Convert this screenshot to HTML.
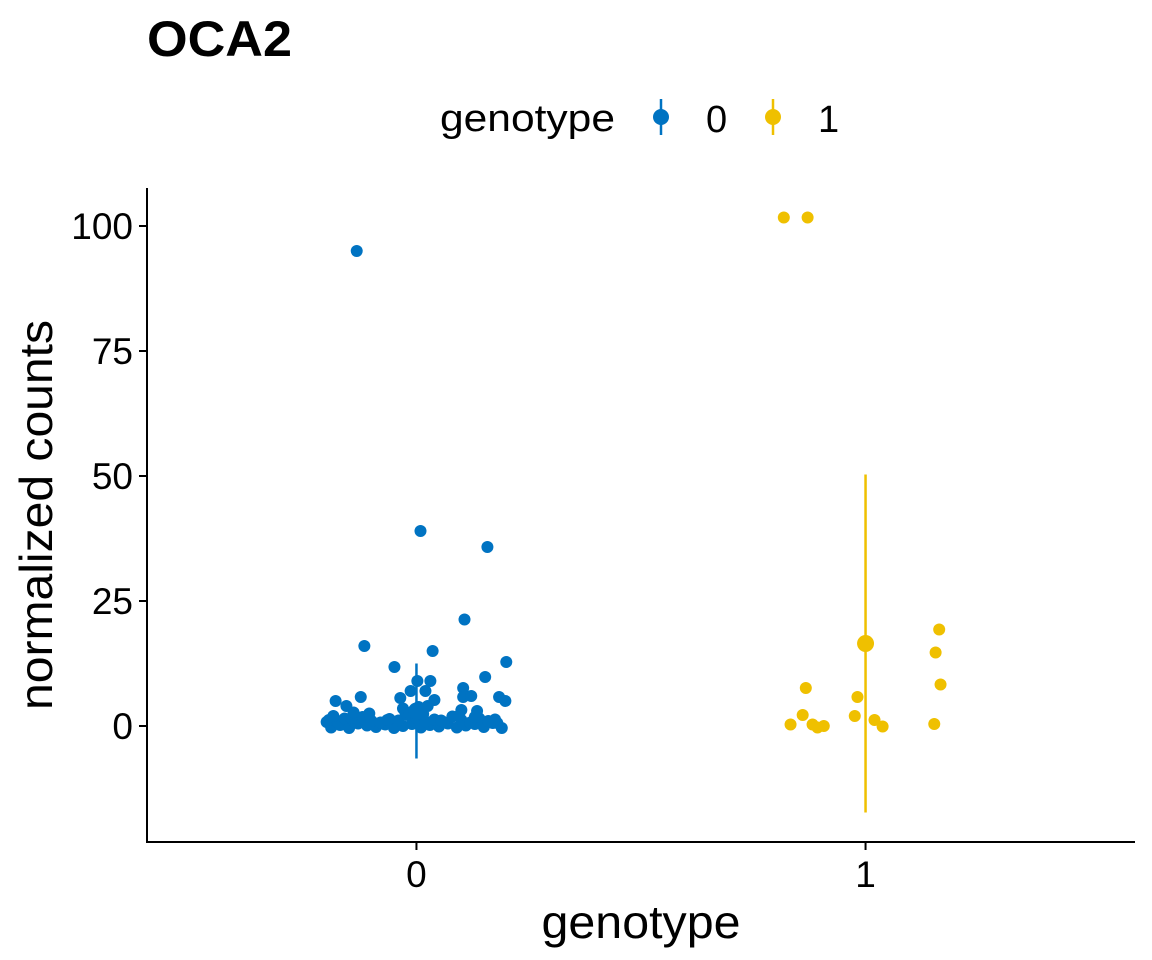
<!DOCTYPE html>
<html><head><meta charset="utf-8"><style>
body{margin:0;background:#fff;}
svg{display:block;font-family:"Liberation Sans",sans-serif;}
</style></head><body>
<svg id="chart" width="1152" height="960">
<text x="147" y="56" font-size="50" font-weight="bold" textLength="145" lengthAdjust="spacingAndGlyphs">OCA2</text>
<g>
<text x="440" y="131" font-size="38" textLength="175" lengthAdjust="spacingAndGlyphs">genotype</text>
<g><line x1="661" x2="661" y1="99" y2="135" stroke="#0073C2" stroke-width="2.5"/><circle cx="661" cy="117" r="8" fill="#0073C2"/><text x="706" y="132" font-size="38">0</text></g>
<g><line x1="773" x2="773" y1="99" y2="135" stroke="#EFC000" stroke-width="2.5"/><circle cx="773" cy="117" r="8" fill="#EFC000"/><text x="818" y="132" font-size="38">1</text></g>
</g>
<g id="axes"></g>
<g id="marks"></g>
<text x="641" y="938" font-size="46" text-anchor="middle" textLength="199" lengthAdjust="spacingAndGlyphs">genotype</text>
<text transform="translate(52,515) rotate(-90)" font-size="46" text-anchor="middle" textLength="390" lengthAdjust="spacingAndGlyphs">normalized counts</text>
</svg>
<script>
const categories=["0","1"];
const yTicks=[0,25,50,75,100];
const colors=["#0073C2","#EFC000"];
const g0x=[-0.133,0.009,0.158,0.107,-0.116,0.036,0.2,-0.049,0.153,0.002,0.031,0.104,-0.013,0.02,0.184,0.198,-0.124,-0.18,-0.036,0.04,0.104,0.122,-0.156,-0.2,
-0.19,-0.17,-0.15,-0.13,-0.11,-0.09,-0.07,-0.05,-0.03,-0.01,0.01,0.03,0.05,0.07,0.09,0.11,0.13,0.15,0.17,0.19,
-0.195,-0.175,-0.16,-0.14,-0.12,-0.1,-0.08,-0.06,-0.04,-0.02,0,0.02,0.04,0.06,0.08,0.1,0.12,0.14,0.16,0.18,
-0.185,-0.145,-0.105,-0.065,-0.025,0.015,0.055,0.095,0.135,0.175,-0.03,0.005,-0.015,0.1,0.13,0.025,-0.14];
const g0y=[95,39,35.8,21.3,16,15,12.8,11.8,9.8,9,9,7.6,7,7,5.8,5,5.8,5,5.6,5.2,5.8,6,4,0.8,
-0.3,0.2,-0.4,0.5,0.1,-0.2,0.3,-0.4,0,0.4,-0.3,0.2,-0.1,0.5,-0.3,0.1,0.4,-0.2,0.6,-0.4,
1.2,0.8,1.5,0.9,1.8,1,0.7,1.4,1.1,2.2,1.6,0.9,1.3,0.8,1.9,1.2,0.7,1.5,1,0.6,
2,1.6,2.5,1.2,2.8,2.4,1.1,2.1,3,1.3,3.5,3.8,2.6,3.2,1.8,4,2.7];
const g1x=[-0.182,-0.129,-0.133,-0.14,-0.167,-0.118,-0.107,-0.093,-0.018,-0.024,0.02,0.038,0.164,0.156,0.167,0.153];
const g1y=[101.7,101.7,7.6,2.2,0.3,0.3,-0.3,0,5.8,2,1.2,-0.1,19.3,14.7,8.3,0.4];
const means=[3,16.5];
const lows=[-6.5,-17.3];
const highs=[12.5,50.3];
const X0=147,X1=1135,Y0=842,Y1=188,XMIN=-0.6,XMAX=1.6,YMIN=-23.2,YMAX=107.6;
const sx=v=>X0+(v-XMIN)/(XMAX-XMIN)*(X1-X0);
const sy=v=>Y0-(v-YMIN)/(YMAX-YMIN)*(Y0-Y1);
const NS="http://www.w3.org/2000/svg";
function mk(tag,attrs,parent){const e=document.createElementNS(NS,tag);for(const k in attrs)e.setAttribute(k,attrs[k]);parent.appendChild(e);return e;}
const ax=document.getElementById('axes'),mg=document.getElementById('marks');
let l=mk('line',{x1:X0,x2:X0,y1:Y1,y2:Y0+1,stroke:'#000','stroke-width':2},ax);


l=mk('line',{x1:X0-1,x2:X1,y1:Y0,y2:Y0,stroke:'#000','stroke-width':2},ax);


yTicks.forEach(t=>{
 const tk=mk('line',{x1:X0-8,x2:X0,y1:sy(t),y2:sy(t),stroke:'#000','stroke-width':2},ax);
 
 
 const tx=mk('text',{x:X0-14,y:sy(t)+13,'font-size':37,'text-anchor':'end'},ax);
 tx.textContent=t;
 
 
});
categories.forEach((c,i)=>{
 const tk=mk('line',{x1:sx(i),x2:sx(i),y1:Y0,y2:Y0+8,stroke:'#000','stroke-width':2},ax);
 
 
 const tx=mk('text',{x:sx(i),y:Y0+45,'font-size':37,'text-anchor':'middle'},ax);
 tx.textContent=c;
 
 
});
function pts(xs,ys,g){xs.forEach((dx,j)=>{
 const p=mk('circle',{cx:sx(g+dx),cy:sy(ys[j]),r:6,fill:colors[g]},mg);
 
 
});}
pts(g0x,g0y,0);pts(g1x,g1y,1);
means.forEach((m,i)=>{
 const e=mk('line',{x1:sx(i),x2:sx(i),y1:sy(lows[i]),y2:sy(highs[i]),stroke:colors[i],'stroke-width':2.5},mg);
 
 
 const c=mk('circle',{cx:sx(i),cy:sy(m),r:8.5,fill:colors[i]},mg);
 
 
});
</script>
</body></html>
